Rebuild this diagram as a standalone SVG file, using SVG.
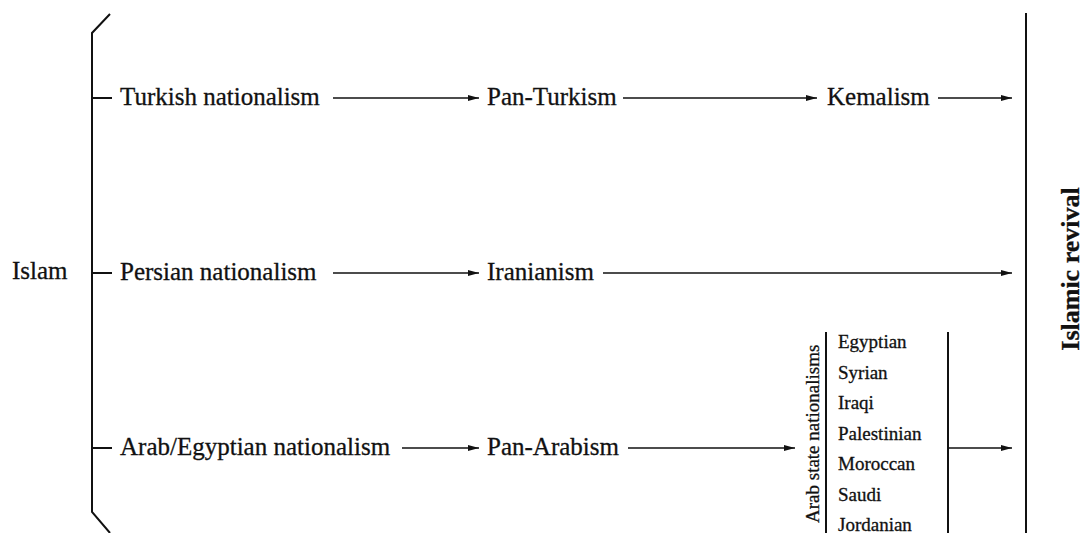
<svg xmlns="http://www.w3.org/2000/svg" width="1085" height="533" viewBox="0 0 1085 533">
<style>
text{font-family:"Liberation Serif","Times New Roman",serif;fill:#111;stroke:#111;stroke-width:0.3}
.t{font-size:25px}
.s{font-size:19px}
.b{font-size:26px;font-weight:bold}
line,polyline{stroke:#111;stroke-width:2;fill:none}
.a{stroke-width:1.7;marker-end:url(#ah)}
</style>
<defs>
<marker id="ah" viewBox="0 0 10 6" refX="10" refY="3" markerWidth="11" markerHeight="7" markerUnits="userSpaceOnUse" orient="auto">
<path d="M0,0.3 L10,3 L0,5.7 z" fill="#111"/>
</marker>
</defs>
<rect width="1085" height="533" fill="#fff"/>
<g id="islam"><text class="t" x="12" y="279">Islam</text></g>
<g id="bracket"><polyline points="110,14 92,33 92,512 110,533"/></g>
<g id="turkish"><text class="t" x="120" y="105">Turkish nationalism</text></g>
<g id="panturkism"><text class="t" x="487" y="105">Pan-Turkism</text></g>
<g id="kemalism"><text class="t" x="827" y="105">Kemalism</text></g>
<g id="persian"><text class="t" x="120" y="280">Persian nationalism</text></g>
<g id="iranianism"><text class="t" x="487" y="280">Iranianism</text></g>
<g id="arab"><text class="t" x="120" y="455">Arab/Egyptian nationalism</text></g>
<g id="panarabism"><text class="t" x="487" y="455">Pan-Arabism</text></g>
<g id="arabstate">
<text class="s" transform="translate(819,523) rotate(-90)">Arab state nationalisms</text>
<line x1="826" y1="332" x2="826" y2="533"/>
<line x1="948" y1="332" x2="948" y2="533"/>
<text class="s" x="838" y="348">Egyptian</text>
<text class="s" x="838" y="379">Syrian</text>
<text class="s" x="838" y="409">Iraqi</text>
<text class="s" x="838" y="440">Palestinian</text>
<text class="s" x="838" y="470">Moroccan</text>
<text class="s" x="838" y="501">Saudi</text>
<text class="s" x="838" y="531">Jordanian</text>
</g>
<g id="revival">
<line x1="1026" y1="13" x2="1026" y2="533"/>
<text class="b" text-anchor="middle" transform="translate(1079,269) rotate(-90)">Islamic revival</text>
</g>
<g id="connectors">
<line x1="93" y1="98" x2="112" y2="98"/>
<line x1="93" y1="273" x2="112" y2="273"/>
<line x1="93" y1="448" x2="112" y2="448"/>
<line class="a" x1="333" y1="98" x2="479" y2="98"/>
<line class="a" x1="623" y1="98" x2="817" y2="98"/>
<line class="a" x1="938" y1="98" x2="1012" y2="98"/>
<line class="a" x1="333" y1="273" x2="479" y2="273"/>
<line class="a" x1="603" y1="273" x2="1012" y2="273"/>
<line class="a" x1="402" y1="448" x2="479" y2="448"/>
<line class="a" x1="628" y1="448" x2="795" y2="448"/>
<line class="a" x1="948" y1="448" x2="1012" y2="448"/>
</g>
</svg>
